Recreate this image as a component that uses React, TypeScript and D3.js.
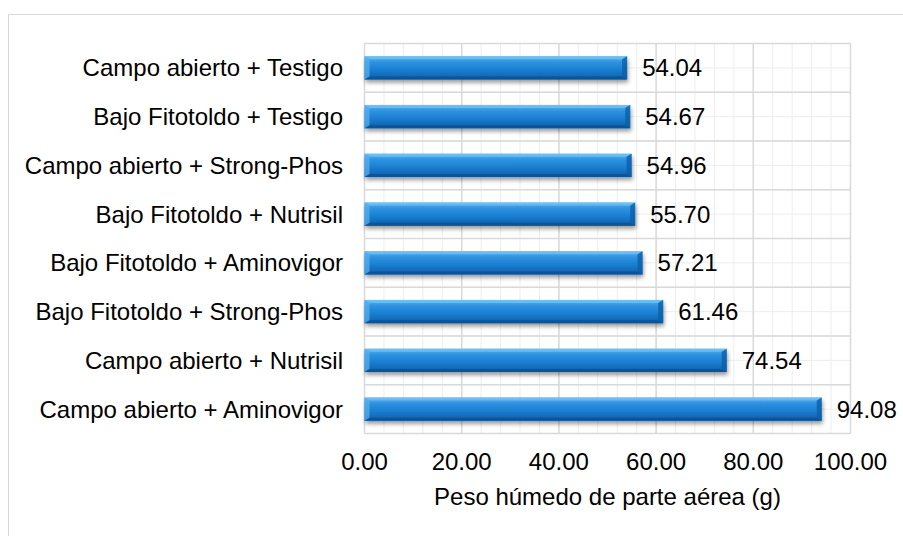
import React from "react";
import * as d3 from "d3";

const categories = [
  "Campo abierto + Testigo",
  "Bajo Fitotoldo + Testigo",
  "Campo abierto + Strong-Phos",
  "Bajo Fitotoldo + Nutrisil",
  "Bajo Fitotoldo + Aminovigor",
  "Bajo Fitotoldo + Strong-Phos",
  "Campo abierto + Nutrisil",
  "Campo abierto + Aminovigor",
];
const values = [54.04, 54.67, 54.96, 55.7, 57.21, 61.46, 74.54, 94.08];
const xTicks = [0, 20, 40, 60, 80, 100];
const xTitle = "Peso húmedo de parte aérea (g)";

const W = 903;
const H = 536;
const plot = { left: 364.5, right: 850.5, top: 43.5, bottom: 433.5 };
const FONT = "'Liberation Sans', Arial, sans-serif";
const FS = 24;

export default function App() {
  const x = d3.scaleLinear().domain([0, 100]).range([plot.left, plot.right]);
  const y = d3
    .scaleBand<string>()
    .domain(categories)
    .range([plot.top, plot.bottom])
    .paddingInner(0.52)
    .paddingOuter(0.26);
  const band = (plot.bottom - plot.top) / categories.length;
  const minorX = d3.range(0, 100.01, 4);
  const minorY = d3.range(0, categories.length * 2 + 1).map((i) => plot.top + (i * band) / 2);
  const bh = y.bandwidth();
  const bev = 5;

  return (
    <svg width={W} height={H} style={{ position: "absolute", left: 0, top: 0 }}>
      <defs>
        <linearGradient id="barG" x1="0" y1="0" x2="0" y2="1">
          <stop offset="0" stopColor="#5cb6f0" />
          <stop offset="0.25" stopColor="#2e93e0" />
          <stop offset="0.6" stopColor="#1a7dd0" />
          <stop offset="1" stopColor="#0c5ca6" />
        </linearGradient>
        <filter id="sh" x="-5%" y="-30%" width="110%" height="180%">
          <feGaussianBlur in="SourceAlpha" stdDeviation="2" />
          <feOffset dx="1" dy="3" result="b" />
          <feComponentTransfer>
            <feFuncA type="linear" slope="0.4" />
          </feComponentTransfer>
          <feMerge>
            <feMergeNode />
            <feMergeNode in="SourceGraphic" />
          </feMerge>
        </filter>
      </defs>
      <rect x={0} y={0} width={W} height={H} fill="#fff" />
      <rect x={8.5} y={14.5} width={W + 10} height={H + 10} fill="none" stroke="#d9d9d9" strokeWidth={1} />
      {minorX.map((v) => (
        <line key={"mx" + v} x1={x(v)} x2={x(v)} y1={plot.top} y2={plot.bottom} stroke="#ededed" strokeWidth={1} />
      ))}
      {minorY.map((v, i) => (
        <line key={"my" + i} x1={plot.left} x2={plot.right} y1={v} y2={v} stroke="#ededed" strokeWidth={1} />
      ))}
      {xTicks.map((v) => (
        <line key={"Mx" + v} x1={x(v)} x2={x(v)} y1={plot.top} y2={plot.bottom} stroke="#d9d9d9" strokeWidth={1.5} />
      ))}
      {d3.range(0, categories.length + 1).map((i) => (
        <line key={"My" + i} x1={plot.left} x2={plot.right} y1={plot.top + i * band} y2={plot.top + i * band} stroke="#d9d9d9" strokeWidth={1.5} />
      ))}
      {categories.map((c, i) => {
        const y0 = y(c) as number;
        const x0 = x(0);
        const x1 = x(values[i]);
        return (
          <g key={c}>
            <rect x={x0} y={y0} width={x1 - x0} height={bh} fill="url(#barG)" filter="url(#sh)" />
            <polygon points={`${x0},${y0} ${x1},${y0} ${x1 - bev},${y0 + bev * 0.6} ${x0 + bev},${y0 + bev * 0.6}`} fill="#7cc8f6" opacity={0.6} />
            <polygon points={`${x0},${y0 + bh} ${x1},${y0 + bh} ${x1 - bev},${y0 + bh - bev * 0.6} ${x0 + bev},${y0 + bh - bev * 0.6}`} fill="#084c8c" opacity={0.6} />
            <polygon points={`${x1},${y0} ${x1},${y0 + bh} ${x1 - bev},${y0 + bh - bev * 0.6} ${x1 - bev},${y0 + bev * 0.6}`} fill="#0d5fa8" opacity={0.8} />
            <polygon points={`${x0},${y0} ${x0},${y0 + bh} ${x0 + bev},${y0 + bh - bev * 0.6} ${x0 + bev},${y0 + bev * 0.6}`} fill="#5ab4ee" opacity={0.7} />
            <text x={x1 + 15} y={y0 + bh / 2} dy="0.35em" fontFamily={FONT} fontSize={FS} fill="#000">
              {values[i].toFixed(2)}
            </text>
            <text x={343} y={y0 + bh / 2} dy="0.35em" textAnchor="end" fontFamily={FONT} fontSize={FS} fill="#000">
              {c}
            </text>
          </g>
        );
      })}
      {xTicks.map((v) => (
        <text key={"t" + v} x={x(v)} y={462} dy="0.35em" textAnchor="middle" fontFamily={FONT} fontSize={FS} fill="#000">
          {v.toFixed(2)}
        </text>
      ))}
      <text x={x(50)} y={497} dy="0.35em" textAnchor="middle" fontFamily={FONT} fontSize={FS} fill="#000">
        {xTitle}
      </text>
    </svg>
  );
}
